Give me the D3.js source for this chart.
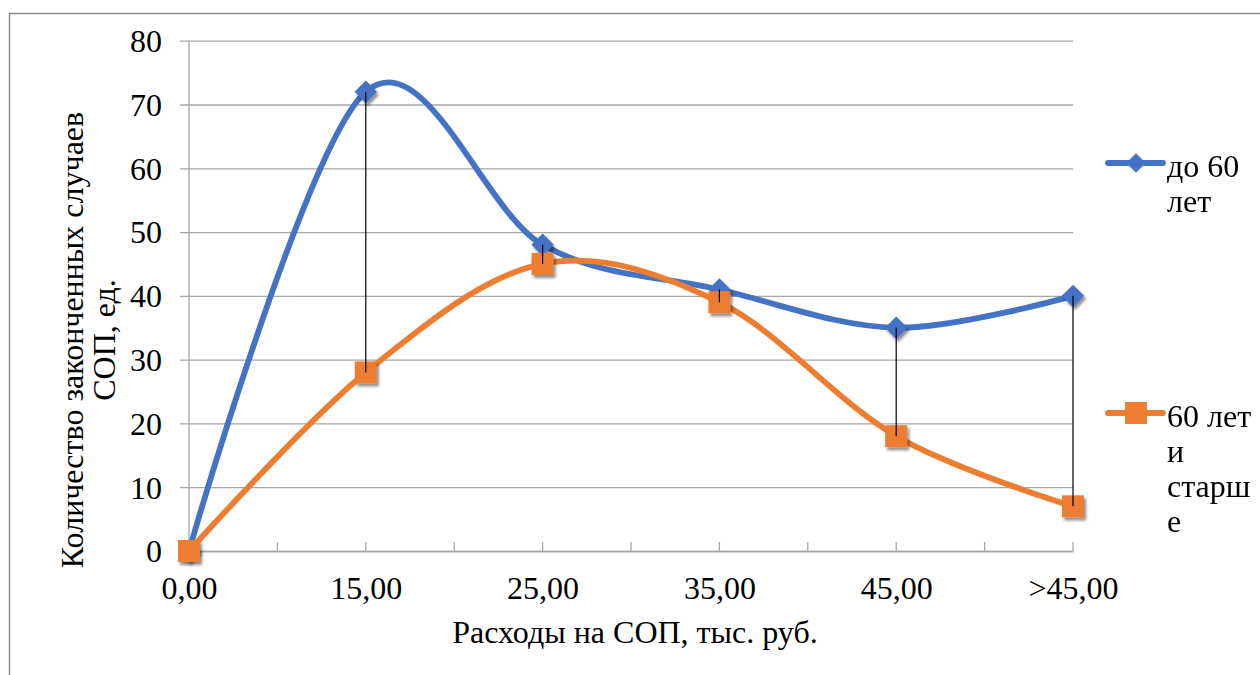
<!DOCTYPE html>
<html>
<head>
<meta charset="utf-8">
<script src="https://cdn.jsdelivr.net/npm/d3@7"></script>
</head>
<body style="margin:0;background:#fff">
<div id="chart"></div>
<script>
// data
const categories = ['0,00', '15,00', '25,00', '35,00', '45,00', '>45,00'];
const under60 = [0, 72, 48, 41, 35, 40];
const over60 = [0, 28, 45, 39, 18, 7];
const yTicks = [0, 10, 20, 30, 40, 50, 60, 70, 80];
const seriesNames = [['до 60', 'лет'], ['60 лет', 'и', 'старш', 'е']];

const W = 1260, H = 675;
const margin = { top: 40.7, right: 187, bottom: 126, left: 189 };
const serif = '"Liberation Serif"';
const fs = '32px';

const svg = d3.select('#chart').append('svg')
  .attr('width', W).attr('height', H);

const defs = svg.append('defs');
defs.append('filter').attr('id', 'shadow')
  .attr('x', '-50%').attr('y', '-50%').attr('width', '200%').attr('height', '200%')
  .append('feDropShadow')
  .attr('dx', 2).attr('dy', 3).attr('stdDeviation', 1.8)
  .attr('flood-color', '#000').attr('flood-opacity', 0.45);

svg.append('rect').attr('width', W).attr('height', H).attr('fill', '#fff');

// outer chart border (only top and left visible)
svg.append('path')
  .attr('d', `M9.5,${H}V13.5H${W}`)
  .attr('fill', 'none').attr('stroke', '#8c8c8c').attr('stroke-width', 1.5);

const x = d3.scalePoint().domain(categories).range([margin.left, W - margin.right]);
const y = d3.scaleLinear().domain([0, 80]).range([H - margin.bottom + 2, margin.top]);

// gridlines + y axis
const yAxis = d3.axisLeft(y).tickValues(yTicks).tickSize(-(x.range()[1] - x.range()[0]) - 9).tickPadding(18).tickFormat(d3.format('d'));
const gy = svg.append('g').attr('transform', `translate(${margin.left - 9},0)`).call(yAxis);
gy.select('.domain').remove();
gy.selectAll('.tick line').attr('stroke', '#a6a6a6').attr('stroke-width', 1.3).attr('x1', 0);
gy.selectAll('.tick text')
  .style('font-family', serif).style('font-size', fs).attr('fill', '#000')
  .attr('dy', '0.34em').attr('x', -18);

svg.append('line')
  .attr('x1', margin.left).attr('x2', margin.left)
  .attr('y1', y(80)).attr('y2', y(0))
  .attr('stroke', '#a6a6a6').attr('stroke-width', 1.3);

// x axis
const gx = svg.append('g').attr('transform', `translate(0,${y(0)})`)
  .call(d3.axisBottom(x).tickSize(0));
gx.select('.domain').attr('stroke', '#a6a6a6').attr('stroke-width', 1.3);
gx.selectAll('.tick text')
  .style('font-family', serif).style('font-size', fs).attr('fill', '#000')
  .attr('dy', 0).attr('y', 48);

// half-category tick marks pointing up
const step = x.step();
const tickPos = d3.range(0, categories.length * 2 - 1).map(i => x.range()[0] + i * step / 2);
svg.append('g').selectAll('line').data(tickPos.slice(1)).join('line')
  .attr('x1', d => d).attr('x2', d => d)
  .attr('y1', y(0) - 9).attr('y2', y(0))
  .attr('stroke', '#a6a6a6').attr('stroke-width', 1.3);

// axis titles
svg.append('text')
  .attr('x', 635).attr('y', 643)
  .attr('text-anchor', 'middle')
  .style('font-family', serif).style('font-size', fs)
  .text('Расходы на СОП, тыс. руб.');

const yt = svg.append('text')
  .attr('transform', 'translate(83,340) rotate(-90)')
  .attr('text-anchor', 'middle')
  .style('font-family', serif).style('font-size', fs);
yt.append('tspan').attr('x', 0).attr('y', 0).text('Количество законченных случаев');
yt.append('tspan').attr('x', 0).attr('y', 32).text('СОП, ед.');

// series
const line = d3.line()
  .x((d, i) => x(categories[i]))
  .y(d => y(d))
  .curve(d3.curveCardinal.tension(0));

const blue = '#4472c4', orange = '#ed7d31';

svg.append('path').datum(under60)
  .attr('d', line).attr('fill', 'none')
  .attr('stroke', blue).attr('stroke-width', 5.8).attr('stroke-linecap', 'round');

svg.append('g').attr('filter', 'url(#shadow)')
  .selectAll('path').data(under60).join('path')
  .attr('d', d3.symbol(d3.symbolDiamond2, 320))
  .attr('transform', (d, i) => `translate(${x(categories[i])},${y(d)})`)
  .attr('fill', blue);

svg.append('path').datum(over60)
  .attr('d', line).attr('fill', 'none')
  .attr('stroke', orange).attr('stroke-width', 5.8).attr('stroke-linecap', 'round');

svg.append('g').attr('filter', 'url(#shadow)')
  .selectAll('rect').data(over60).join('rect')
  .attr('x', (d, i) => x(categories[i]) - 11)
  .attr('y', d => y(d) - 11)
  .attr('width', 22).attr('height', 22)
  .attr('fill', orange);

// high-low lines
svg.append('g').selectAll('line').data(categories).join('line')
  .attr('x1', d => x(d)).attr('x2', d => x(d))
  .attr('y1', (d, i) => y(Math.max(under60[i], over60[i])))
  .attr('y2', (d, i) => y(Math.min(under60[i], over60[i])))
  .attr('stroke', '#000').attr('stroke-width', 1.2);

// legend
const legend = [
  { names: seriesNames[0], color: blue, y: 163, marker: 'diamond' },
  { names: seriesNames[1], color: orange, y: 413, marker: 'square' }
];
legend.forEach(l => {
  const g = svg.append('g');
  g.append('line').attr('x1', 1108).attr('x2', 1163).attr('y1', l.y).attr('y2', l.y)
    .attr('stroke', l.color).attr('stroke-width', 5.8).attr('stroke-linecap', 'round');
  if (l.marker === 'diamond') {
    g.append('path').attr('d', d3.symbol(d3.symbolDiamond2, 240))
      .attr('transform', `translate(1136,${l.y})`).attr('fill', l.color);
  } else {
    g.append('rect').attr('x', 1125).attr('y', l.y - 11).attr('width', 22).attr('height', 22)
      .attr('fill', l.color);
  }
  const t = g.append('text').style('font-family', serif).style('font-size', fs);
  l.names.forEach((n, i) => {
    t.append('tspan').attr('x', 1167).attr('y', l.y + 14 + i * 35).text(n);
  });
});
</script>
</body>
</html>
